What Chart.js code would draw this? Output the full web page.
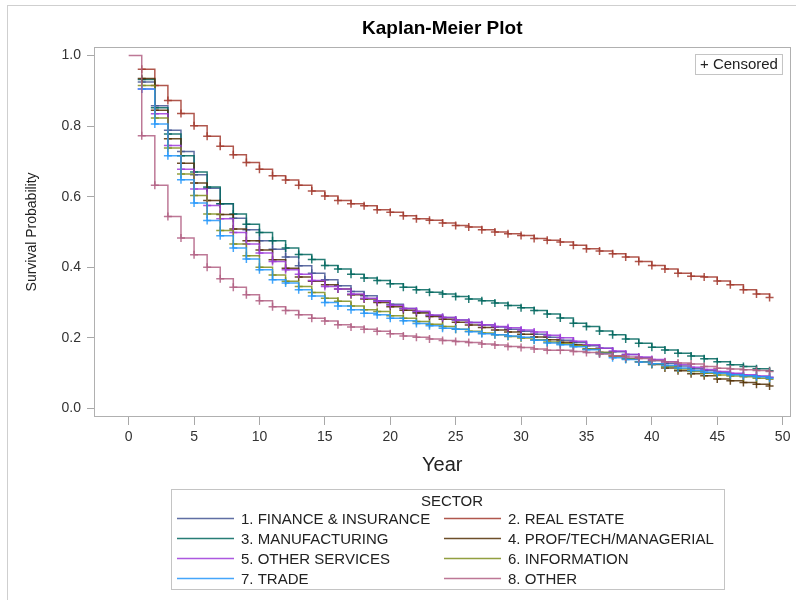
<!DOCTYPE html>
<html>
<head>
<meta charset="utf-8">
<script src="https://cdn.jsdelivr.net/npm/chart.js@4.4.0/dist/chart.umd.min.js"></script>
<style>
  html, body { margin: 0; padding: 0; background: #fff; }
  #wrap { width: 796px; height: 600px; }
</style>
</head>
<body>
<div id="wrap"><canvas id="km-chart" width="796" height="600"></canvas></div>
<script>
// event times (years)
const years = [0, 1, 2, 3, 4, 5, 6, 7, 8, 9,
  10, 11, 12, 13, 14, 15, 16, 17, 18, 19,
  20, 21, 22, 23, 24, 25, 26, 27, 28, 29,
  30, 31, 32, 33, 34, 35, 36, 37, 38, 39,
  40, 41, 42, 43, 44, 45, 46, 47, 48, 49];

// survival estimates, one per year (null = not plotted)
const finance = [null, 0.925, 0.858, 0.788, 0.728, 0.662, 0.624, 0.580, 0.539, 0.506,
  0.475, 0.451, 0.429, 0.404, 0.383, 0.364, 0.347, 0.331, 0.319, 0.305,
  0.295, 0.283, 0.273, 0.263, 0.257, 0.250, 0.243, 0.236, 0.230, 0.224,
  0.218, 0.210, 0.201, 0.193, 0.186, 0.177, 0.170, 0.160, 0.152, 0.143,
  0.135, 0.127, 0.120, 0.112, 0.107, 0.101, 0.097, 0.093, 0.090, 0.087];
const realEstate = [null, 0.961, 0.915, 0.873, 0.836, 0.801, 0.771, 0.743, 0.719, 0.697,
  0.678, 0.659, 0.647, 0.632, 0.616, 0.602, 0.589, 0.580, 0.574, 0.563,
  0.556, 0.546, 0.537, 0.533, 0.525, 0.518, 0.514, 0.506, 0.500, 0.495,
  0.490, 0.481, 0.476, 0.471, 0.462, 0.452, 0.446, 0.438, 0.429, 0.416,
  0.405, 0.395, 0.383, 0.374, 0.372, 0.361, 0.350, 0.336, 0.324, 0.314];
const manufacturing = [null, 0.932, 0.852, 0.778, 0.716, 0.670, 0.627, 0.580, 0.551, 0.522,
  0.498, 0.475, 0.454, 0.436, 0.422, 0.405, 0.395, 0.380, 0.369, 0.362,
  0.353, 0.343, 0.336, 0.329, 0.324, 0.317, 0.310, 0.305, 0.298, 0.291,
  0.285, 0.277, 0.267, 0.256, 0.241, 0.232, 0.219, 0.208, 0.196, 0.184,
  0.173, 0.165, 0.156, 0.148, 0.140, 0.132, 0.123, 0.118, 0.112, 0.106];
const profTech = [null, 0.935, 0.845, 0.764, 0.695, 0.639, 0.589, 0.549, 0.508, 0.475,
  0.449, 0.421, 0.397, 0.372, 0.360, 0.350, 0.338, 0.322, 0.310, 0.300,
  0.288, 0.278, 0.270, 0.260, 0.252, 0.244, 0.236, 0.229, 0.222, 0.216,
  0.210, 0.202, 0.194, 0.187, 0.180, 0.168, 0.158, 0.148, 0.140, 0.132,
  0.124, 0.114, 0.106, 0.098, 0.092, 0.083, 0.078, 0.073, 0.068, 0.063];
const otherServices = [null, 0.905, 0.835, 0.745, 0.678, 0.622, 0.575, 0.537, 0.498, 0.466,
  0.440, 0.416, 0.393, 0.380, 0.362, 0.345, 0.338, 0.324, 0.312, 0.303,
  0.292, 0.283, 0.275, 0.264, 0.257, 0.250, 0.243, 0.237, 0.232, 0.228,
  0.222, 0.216, 0.207, 0.200, 0.190, 0.180, 0.170, 0.162, 0.152, 0.145,
  0.138, 0.132, 0.124, 0.116, 0.110, 0.104, 0.099, 0.095, 0.091, 0.088];
const information = [null, 0.915, 0.823, 0.738, 0.664, 0.603, 0.551, 0.504, 0.466, 0.432,
  0.400, 0.378, 0.360, 0.345, 0.328, 0.312, 0.303, 0.290, 0.279, 0.274,
  0.262, 0.255, 0.246, 0.238, 0.232, 0.224, 0.218, 0.213, 0.208, 0.203,
  0.199, 0.194, 0.188, 0.183, 0.177, 0.168, 0.158, 0.148, 0.140, 0.132,
  0.125, 0.118, 0.111, 0.104, 0.099, 0.094, 0.091, 0.089, 0.085, 0.082];
const trade = [null, 0.905, 0.806, 0.716, 0.648, 0.582, 0.532, 0.489, 0.454, 0.423,
  0.393, 0.364, 0.355, 0.336, 0.318, 0.300, 0.290, 0.279, 0.269, 0.265,
  0.255, 0.248, 0.240, 0.234, 0.227, 0.224, 0.217, 0.211, 0.208, 0.205,
  0.201, 0.193, 0.185, 0.180, 0.174, 0.166, 0.155, 0.143, 0.138, 0.131,
  0.126, 0.121, 0.114, 0.107, 0.102, 0.099, 0.095, 0.092, 0.089, 0.085];
const other = [1.0, 0.773, 0.632, 0.544, 0.483, 0.435, 0.400, 0.367, 0.343, 0.322,
  0.305, 0.288, 0.277, 0.265, 0.255, 0.247, 0.237, 0.230, 0.224, 0.218,
  0.211, 0.205, 0.201, 0.196, 0.192, 0.189, 0.186, 0.182, 0.179, 0.175,
  0.172, 0.168, 0.164, 0.164, 0.161, 0.158, 0.154, 0.149, 0.145, 0.141,
  0.135, 0.131, 0.128, 0.125, 0.118, 0.113, 0.111, 0.109, 0.107, 0.104];

const xTicks = [0, 5, 10, 15, 20, 25, 30, 35, 40, 45, 50];
const yTicks = [0.0, 0.2, 0.4, 0.6, 0.8, 1.0];

const sectors = [
  { label: '1. FINANCE & INSURANCE', values: finance, color: 'rgba(68, 86, 148, 0.85)' },
  { label: '2. REAL ESTATE', values: realEstate, color: 'rgba(162, 58, 46, 0.85)' },
  { label: '3. MANUFACTURING', values: manufacturing, color: 'rgba(1, 102, 94, 0.85)' },
  { label: '4. PROF/TECH/MANAGERIAL', values: profTech, color: 'rgba(84, 48, 5, 0.85)' },
  { label: '5. OTHER SERVICES', values: otherServices, color: 'rgba(157, 60, 219, 0.85)' },
  { label: '6. INFORMATION', values: information, color: 'rgba(127, 142, 31, 0.85)' },
  { label: '7. TRADE', values: trade, color: 'rgba(37, 151, 250, 0.85)' },
  { label: '8. OTHER', values: other, color: 'rgba(178, 96, 132, 0.85)' }
];

const FONT = 'Arial, "Liberation Sans", Helvetica, sans-serif';
Chart.defaults.font.family = FONT;

// outer frame, plot frame, censored key and the two-column SECTOR legend
const kmDecor = {
  id: 'kmDecor',
  beforeDraw(chart) {
    const ctx = chart.ctx;
    ctx.save();
    ctx.fillStyle = '#fff';
    ctx.fillRect(0, 0, chart.width, chart.height);
    ctx.strokeStyle = '#cfcfcf';
    ctx.lineWidth = 1;
    ctx.strokeRect(7.5, 5.5, chart.width + 20, chart.height + 20);
    ctx.restore();
  },
  afterDraw(chart) {
    const ctx = chart.ctx;
    const a = chart.chartArea;
    ctx.save();
    ctx.strokeStyle = '#b0b0b0';
    ctx.lineWidth = 1;
    ctx.strokeRect(Math.round(a.left) + 0.5, Math.round(a.top) + 0.5,
      Math.round(a.right - a.left) - 1, Math.round(a.bottom - a.top) - 1);

    // censored key
    ctx.font = '15px ' + FONT;
    ctx.textBaseline = 'middle';
    ctx.textAlign = 'left';
    const ct = '+ Censored';
    const cw = ctx.measureText(ct).width + 9;
    const cx = Math.round(a.right - 9 - cw) + 0.5;
    const cy = Math.round(a.top + 7) + 0.5;
    ctx.strokeStyle = '#c4c4c4';
    ctx.strokeRect(cx, cy, cw, 20);
    ctx.fillStyle = '#222';
    ctx.fillText(ct, cx + 4.5, cy + 10.5);

    // legend
    const bx = 171.5, by = 489.5, bw = 553, bh = 100;
    ctx.strokeStyle = '#c4c4c4';
    ctx.strokeRect(bx, by, bw, bh);
    ctx.textAlign = 'center';
    ctx.fillText('SECTOR', bx + bw / 2 + 4, by + 12);
    ctx.textAlign = 'left';
    chart.data.datasets.forEach((ds, i) => {
      const x = i % 2 === 0 ? 177 : 444;
      const y = 518.5 + Math.floor(i / 2) * 20;
      ctx.strokeStyle = ds.borderColor;
      ctx.lineWidth = 1.5;
      ctx.beginPath();
      ctx.moveTo(x, y);
      ctx.lineTo(x + 57, y);
      ctx.stroke();
      ctx.fillStyle = '#222';
      ctx.fillText(ds.label, x + 64, y + 1);
    });
    ctx.restore();
  }
};

new Chart(document.getElementById('km-chart').getContext('2d'), {
  type: 'line',
  data: {
    datasets: sectors.map((s, i) => ({
      label: s.label,
      data: years.map((yr, j) => ({ x: yr, y: s.values[j] })),
      stepped: 'before',
      borderColor: s.color,
      backgroundColor: s.color,
      borderWidth: 1.5,
      fill: false,
      pointStyle: 'cross',
      pointRadius: c => (c.raw && c.raw.x === 0) ? 0 : 4,
      pointBorderWidth: 1.5,
      pointBorderColor: s.color,
      order: sectors.length - 1 - i
    }))
  },
  options: {
    responsive: false,
    animation: false,
    devicePixelRatio: 1,
    layout: { padding: { left: 0, right: 4, top: 0, bottom: 123 } },
    plugins: {
      legend: { display: false },
      tooltip: { enabled: false },
      title: {
        display: true,
        fullSize: false,
        text: 'Kaplan-Meier Plot',
        color: '#000',
        font: { size: 19, weight: 'bold' },
        padding: { top: 17, bottom: 7 }
      }
    },
    scales: {
      x: {
        type: 'linear',
        min: -2.65,
        max: 50.6,
        afterBuildTicks: s => { s.ticks = xTicks.map(v => ({ value: v })); },
        afterFit: s => { s.height = 60; },
        grid: { drawOnChartArea: false, drawTicks: true, tickLength: 8, color: '#a8a8a8' },
        border: { display: false },
        ticks: { padding: 4, color: '#333', font: { size: 14 }, maxRotation: 0, autoSkip: false },
        title: { display: true, text: 'Year', color: '#222', font: { size: 20 }, padding: 0 }
      },
      y: {
        min: -0.025,
        max: 1.025,
        afterBuildTicks: s => { s.ticks = yTicks.map(v => ({ value: v })); },
        afterFit: s => { s.width = 94; },
        grid: { drawOnChartArea: false, drawTicks: true, tickLength: 7, color: '#a8a8a8' },
        border: { display: false },
        ticks: { padding: 6, color: '#333', font: { size: 14 }, callback: v => v.toFixed(1) },
        title: { display: true, text: 'Survival Probability', color: '#222', font: { size: 14 }, padding: { top: 24, bottom: 0 } }
      }
    }
  },
  plugins: [kmDecor]
});
</script>
</body>
</html>
